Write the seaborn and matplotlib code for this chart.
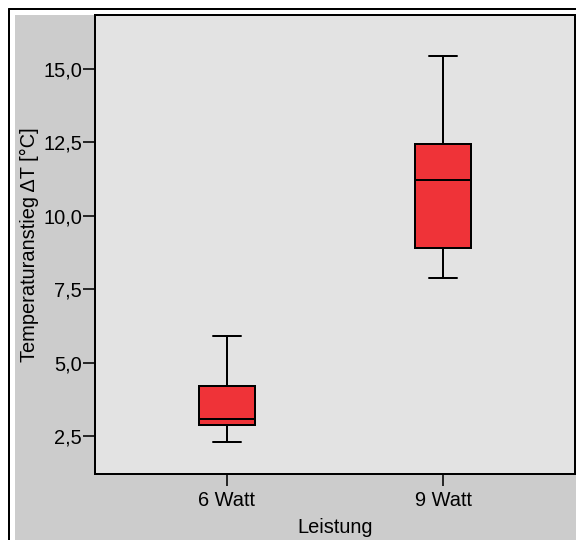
import matplotlib
matplotlib.use("Agg")
import matplotlib.pyplot as plt
import seaborn as sns
import pandas as pd
from matplotlib.patches import Rectangle
from matplotlib.lines import Line2D
from matplotlib.ticker import FuncFormatter

# Data: five-number summaries (min, Q1, median, Q3, max)
groups = ["6 Watt", "9 Watt"]
values_6w = [2.30, 2.87, 3.10, 4.20, 5.90]
values_9w = [7.90, 8.92, 11.22, 12.45, 15.42]
yticks = [2.5, 5.0, 7.5, 10.0, 12.5, 15.0]

df = pd.DataFrame({
    "Leistung": [groups[0]] * len(values_6w) + [groups[1]] * len(values_9w),
    "dT": values_6w + values_9w,
})

sns.set_style("white")
plt.rcParams["font.family"] = ["Liberation Sans", "DejaVu Sans"]
plt.rcParams["text.color"] = "black"
plt.rcParams["axes.labelcolor"] = "black"
plt.rcParams["xtick.color"] = "black"
plt.rcParams["ytick.color"] = "black"

W, H = 576, 540
fig = plt.figure(figsize=(W / 72, H / 72), dpi=72, facecolor="white")

# outer gray panel and frame
fig.patches.append(Rectangle((15 / W, 0), 1, 1 - 15 / H, transform=fig.transFigure,
                             facecolor="#cccccc", edgecolor="none", zorder=-5))
fig.lines.append(Line2D([8.5 / W, 8.5 / W], [0, 1 - 9 / H], transform=fig.transFigure,
                        color="black", lw=2, zorder=-4))
fig.lines.append(Line2D([8.5 / W, 1], [1 - 9 / H, 1 - 9 / H], transform=fig.transFigure,
                        color="black", lw=2, zorder=-4))

left, right, top, bottom = 95, 575, 15, 474
ax = fig.add_axes([left / W, 1 - bottom / H, (right - left) / W, (bottom - top) / H])
ax.set_zorder(2)
ax.set_facecolor("#e3e3e3")

sns.boxplot(data=df, x="Leistung", y="dT", order=groups, color="#ef3338",
            saturation=1, width=0.26, linecolor="black", linewidth=2,
            whis=1.5, ax=ax)

ax.set_xlim(-0.611, 1.611)
ax.set_ylim(1.22, 16.83)
ax.set_yticks(yticks)
ax.yaxis.set_major_formatter(FuncFormatter(lambda v, p: f"{v:.1f}".replace(".", ",")))

for s in ax.spines.values():
    s.set_visible(True)
    s.set_color("black")
    s.set_linewidth(2)

ax.tick_params(axis="both", direction="out", length=12, width=1.6, color="black",
               labelcolor="black", labelsize=20, left=True, bottom=True)
ax.tick_params(axis="y", pad=1)
ax.tick_params(axis="x", pad=5)
ax.set_xlabel("Leistung", fontsize=20, labelpad=8, color="black")
ax.set_ylabel("Temperaturanstieg ΔT [°C]", fontsize=20, labelpad=4, color="black")

fig.savefig("out.png", dpi=72, facecolor=fig.get_facecolor())
